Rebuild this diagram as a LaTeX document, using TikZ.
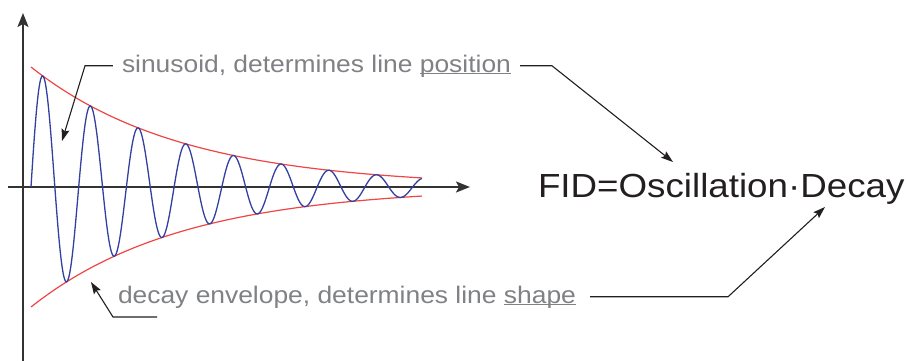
\documentclass[tikz,border=0pt]{standalone}
\usepackage{fontspec}
\setmainfont{Liberation Sans}
\newfontfamily\labfont[FakeStretch=1.1]{Liberation Sans}
\usepackage{xcolor}
\usetikzlibrary{arrows.meta}
\definecolor{cInk}{HTML}{231F20}
\definecolor{cAxis}{HTML}{333333}
\definecolor{cGray}{HTML}{808184}
\definecolor{cWave}{HTML}{3340A0}
\definecolor{cEnv}{HTML}{F04545}
\newcommand\ulword[1]{\setbox0\hbox{#1}\rlap{\rule[-2.2pt]{\wd0}{1.2pt}}\box0}
\tikzset{
  axis/.style={draw=cAxis,line width=1.6pt,-{Stealth[length=14pt,width=11pt,inset=3pt]}},
  wave/.style={cWave,line width=1.3pt,samples=800},
  env/.style={cEnv,line width=1.2pt,samples=150,smooth},
  lead/.style={draw=cInk,line width=1.1pt,-{Stealth[length=12pt,width=8pt,inset=2pt]}},
  lbl/.style={font=\labfont\fontsize{24}{28}\selectfont,text=cGray,inner xsep=9pt,anchor=text},
  eqn/.style={font=\labfont\fontsize{33.4}{40}\selectfont,text=cInk,anchor=text},
}

\begin{document}
\begin{tikzpicture}[x=1pt,y=-1pt]
  \useasboundingbox (0,0) rectangle (907,361);
  % axes
  \draw[axis] (23,361) -- (23,13);
  \draw[axis] (8,187) -- (470,187);
  % envelope and signal (period 47.7, 360/47.7 = 7.547)
  \draw[env] plot[domain=31:422] (\x,{187-120*exp(-0.0066*(\x-31))});
  \draw[env] plot[domain=31:422] (\x,{187+120*exp(-0.0066*(\x-31))});
  \draw[wave] plot[domain=31:422] (\x,{187-120*exp(-0.0066*(\x-31))*sin(7.547*(\x-31))});
  % labels
  \node[lbl] (sinlbl) at (122,72) {sinusoid, determines line \ulword{position}};
  \node[lbl,inner xsep=14pt] (envlbl) at (118,303) {decay envelope, determines line \ulword{shape}};
  \node[eqn] (fid) at (538,197) {FID=Oscillation·Decay};
  % leader lines
  \coordinate (sinbend) at (85,67);
  \coordinate (sintip) at (62,141);
  \coordinate (posbend) at (552,67);
  \coordinate (postip) at (673,162);
  \coordinate (envfoot) at (157,317);
  \coordinate (envbend) at (113,317);
  \coordinate (envtip) at (91,282);
  \coordinate (shpbend) at (728,298);
  \coordinate (shptip) at (825,207);
  \draw[lead] (sinlbl.west) -- (sinlbl.west -| sinbend) -- (sintip);
  \draw[lead] (sinlbl.east) -- (sinlbl.east -| posbend) -- (postip);
  \draw[lead] (envfoot) -- (envbend) -- (envtip);
  \draw[lead] (envlbl.east) -- (envlbl.east -| shpbend) -- (shptip);
\end{tikzpicture}
\end{document}
